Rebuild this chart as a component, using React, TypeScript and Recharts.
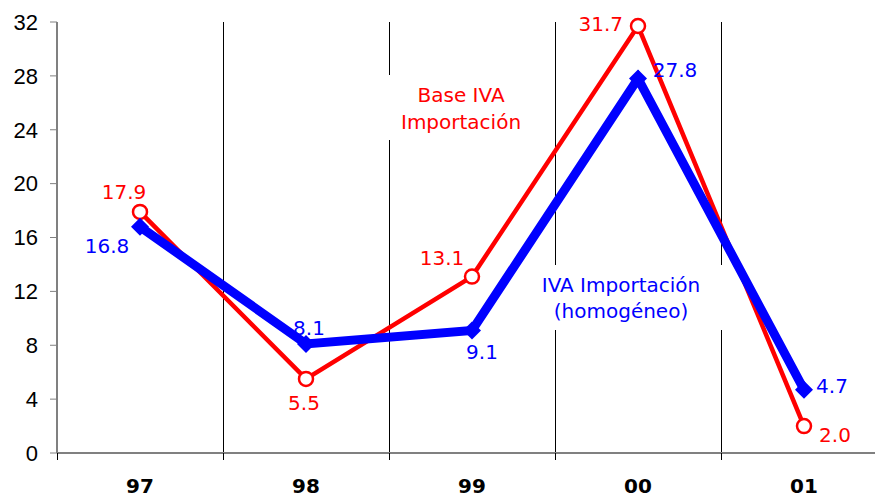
import React from 'react';
import {
  LineChart, Line, XAxis, YAxis, CartesianGrid, LabelList, ReferenceArea,
} from 'recharts';

const years = ['97', '98', '99', '00', '01'];
const baseIva = [17.9, 5.5, 13.1, 31.7, 2.0];
const ivaHomog = [16.8, 8.1, 9.1, 27.8, 4.7];
const yTicks = [0, 4, 8, 12, 16, 20, 24, 28, 32];

const RED = '#ff0000';
const BLUE = '#0000ff';
const LABEL_FONT = '"DejaVu Sans", Verdana, sans-serif';

// label placement around each point: [dx, dy, anchor]
const redPos: [number, number, string][] = [
  [-16, -13, 'middle'], [-2, 31, 'middle'], [-30, -12, 'middle'], [-15, 5, 'end'], [31, 16, 'middle'],
];
const bluePos: [number, number, string][] = [
  [-33, 26, 'middle'], [3, -9, 'middle'], [10, 29, 'middle'], [37, -2, 'middle'], [28, 3, 'middle'],
];

const data = years.map((y, i) => ({ x: i, red: baseIva[i], blue: ivaHomog[i] }));

const HALF_BAND = 83;

const makeLabel = (pos: [number, number, string][], color: string) => (props: any) => {
  const { x, y, value, index } = props;
  const [dx, dy, anchor] = pos[index];
  return (
    <text x={x + dx} y={y + dy} fill={color} textAnchor={anchor as any}
      style={{ fontFamily: LABEL_FONT, fontSize: 20 }}>
      {Number(value).toFixed(1)}
    </text>
  );
};

const XTick = (props: any) => {
  const { x, y, index } = props;
  const label = years[index];
  if (!label) return null;
  return (
    <text x={x + HALF_BAND} y={y + 31} textAnchor="middle" fill="#000"
      style={{ fontFamily: LABEL_FONT, fontSize: 20, fontWeight: 'bold' }}>
      {label}
    </text>
  );
};

const AreaText = (props: any) => {
  const { viewBox, lines, color } = props;
  const cx = viewBox.x + viewBox.width / 2;
  return (
    <g>
      {lines.map((t: string, i: number) => (
        <text key={i} x={cx} y={viewBox.y + 27 + i * 26.5} textAnchor="middle" fill={color}
          style={{ fontFamily: LABEL_FONT, fontSize: 20 }}>
          {t}
        </text>
      ))}
    </g>
  );
};

const Diamond = (props: any) => {
  const { cx, cy, index } = props;
  const s = 9;
  return (
    <polygon key={`d${index}`} points={`${cx},${cy - s} ${cx + s},${cy} ${cx},${cy + s} ${cx - s},${cy}`} fill={BLUE} />
  );
};

export default function App() {
  return (
    <div style={{ position: 'absolute', left: 0, top: 0, width: 875, height: 497, overflow: 'hidden', background: '#fff' }}>
      <LineChart width={900} height={497} data={data} margin={{ top: 22, right: 13, left: 0, bottom: 0 }}>
        <CartesianGrid horizontal={false} stroke="#000" strokeWidth={1} shapeRendering="crispEdges" />
        <XAxis type="number" dataKey="x" domain={[-0.5, 4.5]} ticks={[-0.5, 0.5, 1.5, 2.5, 3.5, 4.5]}
          height={44} tickSize={7} tick={<XTick />} interval={0}
          axisLine={{ stroke: '#808080', strokeWidth: 2 }} tickLine={{ stroke: '#000', shapeRendering: 'crispEdges' }} />
        <YAxis domain={[0, 32]} ticks={yTicks} width={57} tickSize={7} tickMargin={12} interval={0}
          axisLine={{ stroke: '#808080', strokeWidth: 2 }} tickLine={{ stroke: '#808080' }}
          tick={{ fill: '#000', fontSize: 22, fontFamily: '"Liberation Sans", Arial, sans-serif' }} />
        <ReferenceArea x1={1.476} x2={2.392} y1={23.24} y2={28.06} fill="#fff" fillOpacity={1} stroke="none"
          label={<AreaText lines={['Base IVA', 'Importación']} color={RED} />} />
        <ReferenceArea x1={2.277} x2={3.518} y1={9.13} y2={13.96} fill="#fff" fillOpacity={1} stroke="none"
          label={<AreaText lines={['IVA Importación', '(homogéneo)']} color={BLUE} />} />
        <Line type="linear" dataKey="red" stroke={RED} strokeWidth={4.5} isAnimationActive={false}
          dot={{ r: 7, stroke: RED, strokeWidth: 2.5, fill: '#fff' }}>
          <LabelList dataKey="red" content={makeLabel(redPos, RED)} />
        </Line>
        <Line type="linear" dataKey="blue" stroke={BLUE} strokeWidth={9} isAnimationActive={false}
          dot={<Diamond />}>
          <LabelList dataKey="blue" content={makeLabel(bluePos, BLUE)} />
        </Line>
      </LineChart>
    </div>
  );
}
